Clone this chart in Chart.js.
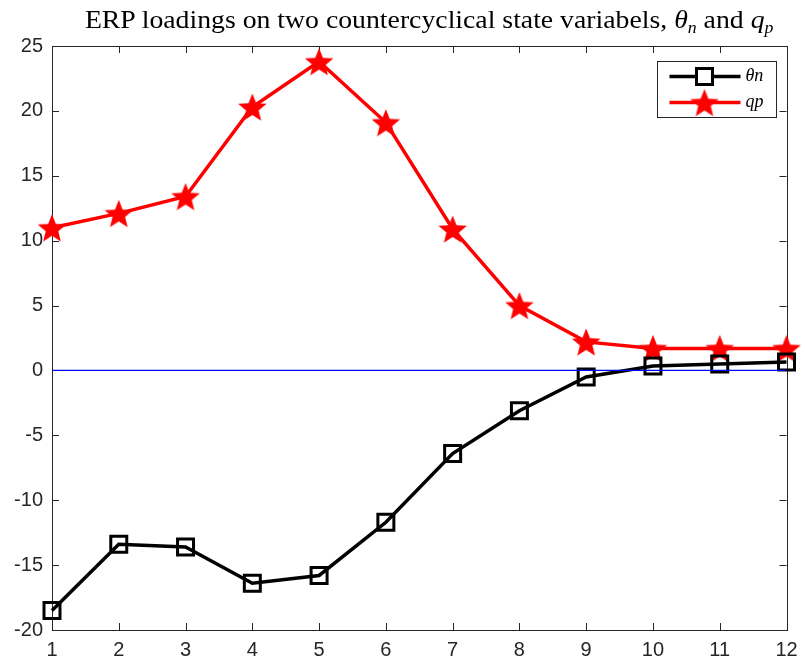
<!DOCTYPE html>
<html>
<head>
<meta charset="utf-8">
<script src="https://cdn.jsdelivr.net/npm/chart.js@4"></script>
<style>
  html, body { margin: 0; padding: 0; background: #fff; }
  #wrap { position: relative; width: 805px; height: 666px; }
  #title { position: absolute; left: 0; width: 858px; top: 6px; text-align: center;
           font-family: "Liberation Serif", "DejaVu Serif", serif; font-size: 25px; color: #000; white-space: nowrap; }
  #title span { display: inline-block; transform: scaleX(1.11); }
  #title i { font-style: italic; }
  #title sub { font-size: 16px; vertical-align: -5px; line-height: 0; }
</style>
</head>
<body>
<div id="wrap">
  <canvas id="erpChart" width="805" height="666"></canvas>
  <div id="title"><span>ERP loadings on two countercyclical state variabels, <i>θ</i><sub><i>n</i></sub> and <i>q</i><sub><i>p</i></sub></span></div>
</div>
<script>
const horizons = [1, 2, 3, 4, 5, 6, 7, 8, 9, 10, 11, 12];
const thetaN = [-18.5, -13.4, -13.6, -16.4, -15.8, -11.7, -6.4, -3.1, -0.5, 0.35, 0.5, 0.65];
const qP = [11.0, 12.1, 13.4, 20.3, 23.8, 19.1, 10.9, 5.0, 2.2, 1.7, 1.7, 1.7];
const zeroLine = [0, 0];
const legendLabels = ['θn', 'qp'];
const yMin = -20, yMax = 25, yStep = 5;

const axisColor = '#262626';

function makeStar(r, color) {
    const c = document.createElement('canvas');
    c.width = c.height = Math.ceil(r * 2 + 2);
    const g = c.getContext('2d');
    const cx = c.width / 2, cy = c.height / 2;
    g.beginPath();
    for (let i = 0; i < 10; i++) {
        const rad = i % 2 === 0 ? r : r * 0.44;
        const a = -Math.PI / 2 + i * Math.PI / 5;
        g.lineTo(cx + rad * Math.cos(a), cy + rad * Math.sin(a) + r * 0.1);
    }
    g.closePath();
    g.fillStyle = color;
    g.fill();
    return c;
}
const starImg = makeStar(15, '#ff0000');

const boxPlugin = {
    id: 'boxTicks',
    beforeDatasetsDraw(chart) {
        const { ctx, chartArea: a, scales } = chart;
        ctx.save();
        ctx.strokeStyle = axisColor;
        ctx.lineWidth = 1;
        const len = 7;
        scales.x.ticks.forEach(t => {
            const px = Math.round(scales.x.getPixelForValue(t.value)) + 0.5;
            ctx.beginPath();
            ctx.moveTo(px, a.bottom); ctx.lineTo(px, a.bottom - len);
            ctx.moveTo(px, a.top); ctx.lineTo(px, a.top + len);
            ctx.stroke();
        });
        scales.y.ticks.forEach(t => {
            const py = Math.round(scales.y.getPixelForValue(t.value)) + 0.5;
            ctx.beginPath();
            ctx.moveTo(a.left, py); ctx.lineTo(a.left + len, py);
            ctx.moveTo(a.right, py); ctx.lineTo(a.right - len, py);
            ctx.stroke();
        });
        ctx.strokeRect(Math.round(a.left) + 0.5, Math.round(a.top) + 0.5,
                       Math.round(a.right - a.left), Math.round(a.bottom - a.top));
        ctx.restore();
    },
    afterDraw(chart) {
        const { ctx } = chart;
        // legend box
        const bx = 657.5, by = 61.5, bw = 119, bh = 56;
        ctx.save();
        ctx.fillStyle = '#fff';
        ctx.fillRect(bx, by, bw, bh);
        ctx.strokeStyle = axisColor;
        ctx.lineWidth = 1;
        ctx.strokeRect(bx, by, bw, bh);
        const rows = [by + 15, by + 41];
        // theta n row
        ctx.lineWidth = 3.5;
        ctx.strokeStyle = '#000';
        ctx.beginPath(); ctx.moveTo(bx + 12, rows[0]); ctx.lineTo(bx + 83, rows[0]); ctx.stroke();
        ctx.lineWidth = 3;
        ctx.fillStyle = '#fff';
        ctx.fillRect(bx + 39, rows[0] - 8, 16, 16);
        ctx.strokeRect(bx + 39, rows[0] - 8, 16, 16);
        // qp row
        ctx.strokeStyle = '#ff0000';
        ctx.lineWidth = 3.5;
        ctx.beginPath(); ctx.moveTo(bx + 12, rows[1]); ctx.lineTo(bx + 83, rows[1]); ctx.stroke();
        ctx.drawImage(starImg, bx + 47 - starImg.width / 2, rows[1] - starImg.height / 2);
        ctx.fillStyle = '#000';
        ctx.font = 'italic 18px "Liberation Serif", serif';
        ctx.textBaseline = 'middle';
        ctx.fillText(legendLabels[0], bx + 88, rows[0]);
        ctx.fillText(legendLabels[1], bx + 88, rows[1]);
        ctx.restore();
    }
};

const ctx = document.getElementById('erpChart').getContext('2d');
new Chart(ctx, {
    type: 'line',
    data: {
        datasets: [
            {
                label: 'zero', data: [{ x: horizons[0], y: zeroLine[0] }, { x: horizons[horizons.length - 1], y: zeroLine[1] }],
                borderColor: '#0000ff', borderWidth: 1.2, pointRadius: 0
            },
            {
                label: legendLabels[0], data: horizons.map((h, i) => ({ x: h, y: thetaN[i] })),
                borderColor: '#000', borderWidth: 3.5, pointStyle: 'rect', pointRadius: 11.3,
                pointBorderWidth: 3, pointBorderColor: '#000', pointBackgroundColor: 'rgba(0,0,0,0)',
                clip: false
            },
            {
                label: legendLabels[1], data: horizons.map((h, i) => ({ x: h, y: qP[i] })),
                borderColor: '#ff0000', borderWidth: 3.5, pointStyle: starImg, pointRadius: 15,
                clip: false
            }
        ]
    },
    options: {
        responsive: false, animation: false,
        layout: { padding: { left: 0, top: 46, right: 3, bottom: 0 } },
        plugins: { legend: { display: false }, tooltip: { enabled: false }, title: { display: false } },
        scales: {
            x: {
                type: 'linear', min: 1, max: 12,
                ticks: { stepSize: 1, color: axisColor, font: { family: 'Liberation Sans', size: 20 }, padding: 8 },
                grid: { drawOnChartArea: false, drawTicks: false },
                border: { display: false },
                afterFit: s => { s.height = 36; s.paddingRight = 12; }
            },
            y: {
                min: yMin, max: yMax,
                ticks: { stepSize: yStep, color: axisColor, font: { family: 'Liberation Sans', size: 20 }, padding: 9 },
                grid: { drawOnChartArea: false, drawTicks: false },
                border: { display: false },
                afterFit: s => { s.width = 52; }
            }
        }
    },
    plugins: [boxPlugin]
});
</script>
</body>
</html>
